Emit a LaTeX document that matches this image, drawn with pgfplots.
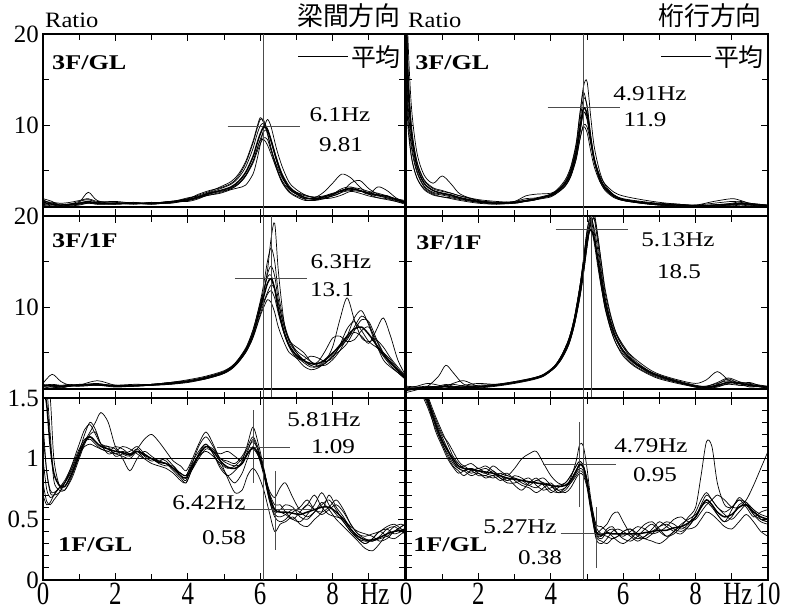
\documentclass[border=0pt]{standalone}
\usepackage{fontspec}
\setmainfont{Liberation Serif}
\newfontfamily\jp{Noto Sans CJK JP}
\usepackage{pgfplots}
\usepackage{pgfplotstable}
\pgfplotsset{compat=1.18}

% ---------- spectral ratio data: x = frequency [Hz], m = average, a..g = records
\pgfplotstableread{
x     m    a    b    c    d    e    f    g
0     1.5  1.9  1.3  1.7  1.2  1.6  1.4  1.8
0.25  1.3  1.6  1.1  1.4  1.0  1.5  1.2  1.3
0.5   1.2  1.1  1.0  1.3  1.1  1.4  1.2  1.0
0.75  1.3  1.2  1.3  1.2  1.2  1.5  1.3  1.1
1.0   1.4  1.5  1.6  1.3  1.3  1.7  1.4  1.2
1.25  1.6  2.6  1.8  1.4  1.5  1.9  1.5  1.4
1.5   1.4  1.7  1.5  1.5  1.4  1.6  1.3  1.3
2     1.4  1.3  1.4  1.6  1.3  1.5  1.4  1.3
2.5   1.4  1.5  1.3  1.4  1.4  1.3  1.5  1.4
3     1.4  1.3  1.5  1.3  1.4  1.5  1.3  1.4
3.5   1.5  1.6  1.4  1.5  1.6  1.4  1.5  1.6
4     1.8  1.9  1.7  2.0  1.7  1.8  1.9  1.6
4.3   2.1  2.4  2.0  2.2  2.0  2.1  2.3  1.9
4.6   2.5  2.8  2.3  2.6  2.5  2.3  2.7  2.4
4.9   2.8  3.1  2.6  3.0  2.8  2.5  3.2  2.7
5.2   3.2  3.6  3.0  3.5  3.1  2.9  3.8  3.0
5.4   3.8  4.4  3.5  4.2  3.6  3.1  4.6  3.5
5.6   4.8  5.8  4.4  5.4  4.5  3.4  6.0  4.4
5.8   6.5  8.0  6.0  7.4  6.0  4.6  8.2  5.8
5.9   7.8  9.4  7.2  8.8  7.2  6.0  9.6  6.9
6.0   9.0  10.6 8.3  9.9  8.4  7.8  10.8 7.9
6.1   9.8  10.5 8.4  10.2 9.3  9.6  10.2 8.6
6.2   9.5  9.2  7.8  9.6  9.4  10.6 9.0  8.4
6.3   8.3  7.5  6.8  8.2  8.4  9.8  7.3  7.2
6.45  6.2  5.4  5.2  6.1  6.4  7.4  5.2  5.6
6.6   4.5  3.8  3.9  4.4  4.7  5.5  3.7  4.2
6.8   3.1  2.7  2.9  3.0  3.3  3.7  2.6  3.1
7.0   2.5  2.2  2.4  2.4  2.6  2.9  2.1  2.6
7.25  2.0  1.9  2.0  1.8  2.2  2.3  1.7  2.3
7.5   1.9  2.0  1.8  1.7  2.1  2.0  1.8  2.0
7.75  2.1  2.6  1.9  1.9  2.2  2.0  2.1  1.9
8.0   2.4  3.6  2.2  2.3  2.5  2.2  2.4  2.0
8.25  2.8  4.6  2.6  2.8  2.7  2.6  3.0  2.3
8.5   3.0  4.2  2.8  3.1  2.9  3.6  3.2  2.7
8.75  2.8  3.2  2.7  3.0  2.8  3.9  2.8  2.5
9.0   2.5  2.4  2.6  2.7  2.4  3.0  2.4  2.2
9.25  2.3  2.0  2.3  2.5  2.2  2.4  3.2  2.0
9.5   2.2  1.8  2.0  2.2  2.0  2.1  2.8  1.9
9.75  1.8  1.6  1.7  1.9  1.8  1.9  2.0  1.6
10    1.5  1.4  1.5  1.6  1.4  1.7  1.5  1.3
}\tTL

\pgfplotstableread{
x     m    a    b    c    d    e    f    g
0     24   30   26   22   18   25   20   16
0.05  15   20   17   13   11   16   12   10
0.15  9.0  12   10   8.0  6.5  9.5  7.5  6.5
0.3   5.5  7.0  6.0  5.0  4.2  6.0  4.8  4.2
0.5   3.6  4.5  3.9  3.3  3.0  4.0  3.2  2.9
0.75  2.8  3.6  3.0  2.6  2.4  3.1  2.5  2.3
1.0   2.5  4.4  2.7  2.4  2.1  2.8  2.3  2.1
1.25  2.3  3.5  2.5  2.2  2.0  2.5  2.1  1.9
1.5   2.0  2.4  2.2  1.9  1.8  2.2  1.9  1.7
2     1.6  1.7  1.7  1.5  1.5  1.8  1.6  1.4
2.5   1.4  1.5  1.5  1.4  1.3  1.6  1.4  1.3
3     1.5  1.6  1.5  1.4  1.6  1.5  1.5  1.4
3.3   1.7  1.9  1.7  1.6  2.2  1.7  1.6  1.6
3.6   1.9  2.0  1.9  1.8  2.4  1.9  1.8  1.8
4     2.3  2.4  2.2  2.3  2.5  2.2  2.4  2.1
4.2   2.8  2.9  2.7  2.8  2.9  2.6  3.0  2.6
4.4   3.6  3.8  3.4  3.7  3.6  3.3  4.0  3.3
4.55  4.8  5.2  4.5  5.0  4.7  4.3  5.4  4.4
4.7   7.0  7.8  6.6  7.4  6.8  6.2  8.0  6.3
4.8   9.5  11.0 9.0  10.2 9.1  8.3  11.2 8.4
4.9   11.8 14.2 11.3 12.9 11.4 10.0 13.6 9.8
5.0   11.2 14.8 10.9 12.2 10.6 9.8  12.0 9.2
5.1   8.5  11.0 8.5  9.0  8.2  8.0  8.6  7.2
5.2   6.2  7.6  6.3  6.4  6.0  6.2  6.0  5.4
5.35  4.2  4.9  4.3  4.2  4.1  4.5  3.9  3.8
5.5   3.1  3.4  3.2  3.0  3.1  3.5  2.8  2.9
5.75  2.2  2.3  2.3  2.1  2.2  2.6  2.0  2.1
6     1.8  1.8  1.9  1.7  1.8  2.2  1.7  1.7
6.5   1.5  1.5  1.6  1.4  1.5  1.8  1.4  1.4
7     1.3  1.3  1.4  1.2  1.3  1.5  1.2  1.2
7.5   1.2  1.2  1.3  1.1  1.3  1.3  1.1  1.1
8     1.1  1.1  1.2  1.0  1.1  1.2  1.0  1.0
8.5   1.2  1.2  1.4  1.1  1.2  1.6  1.1  1.0
9     1.3  1.3  1.6  1.2  1.4  1.9  1.2  1.1
9.25  1.4  1.4  1.5  1.3  1.6  1.7  1.3  1.2
9.5   1.3  1.3  1.3  1.2  1.4  1.4  1.2  1.1
10    1.1  1.1  1.2  1.0  1.2  1.2  1.0  1.0
}\tTR

\pgfplotstableread{
x     m    a    b    c    d    e    f    g
0     1.3  1.0  1.6  1.2  1.4  0.9  1.3  1.5
0.25  1.4  1.3  2.6  1.2  1.5  1.1  1.4  1.3
0.5   1.3  1.2  1.8  1.1  1.4  1.2  1.3  1.2
0.75  1.4  1.3  1.4  1.3  1.5  1.3  1.4  1.3
1     1.4  1.4  1.5  1.3  1.4  1.4  1.3  1.5
1.5   1.5  1.6  1.4  1.4  1.5  1.9  1.4  1.5
2     1.3  1.3  1.4  1.3  1.4  1.4  1.2  1.3
2.5   1.35 1.3  1.4  1.3  1.5  1.4  1.3  1.4
3     1.45 1.4  1.5  1.4  1.5  1.5  1.4  1.5
3.5   1.6  1.5  1.7  1.6  1.7  1.6  1.5  1.7
4     1.8  1.8  1.9  1.8  2.0  1.8  1.7  1.9
4.5   2.2  2.2  2.3  2.1  2.4  2.2  2.1  2.3
5     2.8  2.8  2.9  2.7  3.0  2.8  2.7  2.9
5.3   3.6  3.6  3.8  3.5  3.8  3.6  3.5  3.7
5.6   5.2  5.3  5.4  5.0  5.5  5.2  5.0  5.3
5.8   7.0  7.1  7.4  6.7  7.5  7.0  6.6  7.0
6.0   9.8  10.0 10.6 9.2  10.4 10.2 9.0  9.6
6.1   11.2 11.6 12.6 10.4 11.9 11.8 10.0 10.6
6.2   12.6 13.6 15.0 11.4 13.3 14.0 10.8 11.6
6.3   13.1 14.5 16.5 11.8 13.5 17.5 10.5 12.4
6.4   12.0 13.4 15.0 11.0 12.0 19.2 9.4  12.0
6.5   9.8  10.8 11.6 9.3  9.6  14.0 7.8  10.4
6.65  7.4  8.0  8.4  7.2  7.2  8.6  6.2  8.0
6.8   5.8  6.3  6.5  5.7  5.6  6.2  5.0  6.4
7.0   4.7  5.6  5.0  4.6  4.4  5.0  4.4  5.2
7.2   4.1  5.0  4.2  3.9  4.2  4.1  3.5  4.6
7.4   3.8  4.0  3.6  3.4  4.6  3.6  3.1  4.0
7.6   3.8  3.5  3.4  3.5  4.4  4.0  3.3  3.6
7.8   4.2  3.8  4.1  4.3  4.0  5.2  3.9  3.6
8.0   4.9  4.6  5.6  5.0  4.4  6.6  4.6  4.2
8.2   5.8  5.2  8.6  5.6  5.8  6.8  5.6  5.2
8.4   6.8  6.0  11.0 6.4  7.6  6.2  6.8  6.6
8.6   7.6  7.4  8.6  7.8  8.4  6.4  8.8  7.2
8.8   7.8  8.6  6.6  9.0  7.4  7.4  9.6  6.8
9.0   7.0  8.4  6.2  8.2  6.2  7.8  8.0  6.0
9.2   5.9  6.6  6.4  6.0  5.6  6.4  5.8  7.4
9.4   4.8  5.0  5.6  4.2  5.0  4.8  4.6  8.8
9.6   3.9  4.0  4.4  3.4  4.2  3.8  3.6  6.8
9.8   3.0  3.1  3.4  2.8  3.2  3.0  2.8  4.2
10    2.2  2.3  2.5  2.1  2.4  2.2  2.1  2.6
}\tML

\pgfplotstableread{
x     m    a    b    c    d    e    f    g
0     1.0  0.6  1.3  0.9  1.1  0.8  1.2  1.0
0.3   1.1  0.9  1.2  1.0  1.3  1.0  1.2  1.1
0.6   1.2  1.3  1.1  1.2  1.6  1.2  1.3  1.1
0.9   1.2  2.4  1.2  1.3  1.4  1.1  1.2  1.2
1.1   1.3  3.6  1.4  1.5  1.2  1.3  1.2  1.3
1.3   1.2  2.8  1.5  1.3  1.2  1.6  1.1  1.2
1.6   1.2  1.5  1.3  1.2  1.4  1.9  1.2  1.1
2     1.2  1.3  1.2  1.3  1.6  1.3  1.4  1.1
2.5   1.4  1.4  1.4  1.5  1.5  1.4  1.5  1.3
3     1.7  1.7  1.7  1.8  1.7  1.7  1.8  1.6
3.5   2.1  2.1  2.1  2.2  2.1  2.1  2.2  2.0
3.8   2.5  2.5  2.5  2.6  2.5  2.4  2.6  2.4
4.1   3.4  3.5  3.3  3.5  3.4  3.3  3.5  3.3
4.3   4.5  4.7  4.4  4.7  4.5  4.3  4.7  4.3
4.5   6.2  6.5  6.0  6.5  6.2  5.9  6.5  5.9
4.65  8.4  8.8  8.1  8.8  8.4  8.0  8.8  8.0
4.8   11.6 12.2 11.2 12.2 11.6 11.0 12.2 11.0
4.9   14.4 15.2 13.8 15.0 14.4 13.6 15.0 13.6
5.0   17.4 18.4 16.8 18.0 17.4 16.6 18.2 16.6
5.1   18.5 20.2 19.2 19.0 19.6 19.4 19.8 19.0
5.2   17.5 18.2 19.6 17.0 18.6 20.2 17.6 19.8
5.3   15.3 15.0 17.0 14.4 16.2 17.8 14.8 17.6
5.4   12.8 12.2 13.8 12.0 13.4 14.6 12.2 14.8
5.5   10.5 9.8  11.0 10.0 11.0 11.6 10.0 12.0
5.65  8.2  7.6  8.4  7.8  8.6  9.0  7.6  9.2
5.8   6.6  6.0  6.6  6.4  7.0  7.2  6.0  7.2
6.0   5.2  4.8  5.2  5.0  5.6  5.8  4.6  5.6
6.3   3.9  3.6  4.0  3.8  4.4  4.2  3.5  4.0
6.7   2.9  2.7  3.0  2.8  3.2  3.0  2.6  2.9
7     2.4  2.2  2.5  2.3  2.6  2.4  2.1  2.4
7.5   1.8  1.7  1.9  1.7  2.0  1.8  1.6  1.8
8     1.3  1.3  1.4  1.2  1.6  1.2  1.2  1.3
8.3   1.2  1.2  1.3  1.1  2.0  1.1  1.1  1.3
8.6   1.4  1.3  1.7  1.2  2.9  1.3  1.5  1.6
8.9   1.7  1.5  2.2  1.6  2.0  1.8  2.1  1.9
9.2   1.6  1.4  1.8  1.7  1.4  1.6  1.6  1.7
9.5   1.4  1.3  1.5  1.6  1.5  1.2  1.7  1.4
9.8   1.3  1.2  1.3  1.4  1.2  1.3  1.3  1.3
10    1.2  1.1  1.2  1.3  1.1  1.2  1.2  1.2
}\tMR

\pgfplotstableread{
x     m     a     b     c     d     e     f     g
0     1.60  1.30  0.80  1.70  1.00  1.60  0.70  1.20
0.1   1.45  0.90  0.65  1.60  0.75  1.55  0.62  0.90
0.2   1.10  0.72  0.62  1.20  0.68  1.50  0.64  0.74
0.3   0.88  0.70  0.66  0.82  0.70  1.00  0.70  0.72
0.45  0.78  0.72  0.72  0.74  0.76  0.78  0.76  0.76
0.6   0.77  0.80  0.80  0.74  0.82  0.74  0.80  0.80
0.8   0.88  0.95  0.92  0.84  0.94  0.86  0.90  0.92
1.0   1.03  1.12  1.06  1.00  1.08  1.02  1.04  1.06
1.15  1.14  1.24  1.14  1.12  1.16  1.14  1.10  1.20
1.3   1.18  1.28  1.16  1.20  1.18  1.22  1.12  1.30
1.45  1.14  1.20  1.12  1.22  1.14  1.30  1.10  1.24
1.6   1.10  1.12  1.08  1.12  1.10  1.38  1.08  1.12
1.8   1.08  1.10  1.06  1.04  1.10  1.30  1.06  1.08
2.0   1.06  1.08  1.10  1.06  1.02  1.10  1.04  1.04
2.2   1.05  1.00  1.08  1.10  1.04  1.04  1.06  1.02
2.4   1.03  0.90  1.04  1.08  1.06  1.02  1.04  1.00
2.6   1.06  1.00  1.08  1.04  1.10  1.08  1.06  1.06
2.8   1.03  1.06  1.02  1.00  1.04  1.16  1.00  1.04
3.0   1.00  1.02  0.98  1.00  1.00  1.20  0.96  1.00
3.2   0.97  0.98  1.00  0.96  0.98  1.14  0.94  0.98
3.4   0.96  0.96  0.98  0.94  1.00  1.06  0.92  0.96
3.6   0.92  0.90  0.92  0.94  0.94  0.98  0.88  0.92
3.8   0.86  0.84  0.88  0.86  0.88  0.94  0.82  0.88
3.95  0.84  0.80  0.86  0.82  0.86  0.90  0.80  0.86
4.1   0.92  0.90  0.94  0.94  0.90  0.98  0.90  0.96
4.3   1.03  1.04  1.02  1.10  1.00  1.12  1.02  1.06
4.5   1.10  1.12  1.06  1.18  1.08  1.22  1.10  1.12
4.7   1.06  1.04  1.02  1.10  1.06  1.12  1.08  1.04
4.9   0.98  0.94  0.96  1.00  1.04  0.98  1.00  0.92
5.1   0.93  0.86  0.92  0.96  1.06  0.84  0.98  0.86
5.3   0.92  0.80  0.94  0.94  1.02  0.72  0.96  0.90
5.5   0.96  0.88  1.00  0.96  0.98  0.74  1.02  0.98
5.65  1.04  1.00  1.08  1.04  1.06  0.86  1.10  1.12
5.8   1.09  1.10  1.14  1.08  1.16  0.92  1.18  1.26
5.95  1.04  1.02  1.06  1.02  1.06  0.86  1.08  1.12
6.1   0.90  0.86  0.88  0.90  0.88  0.74  0.90  0.92
6.25  0.70  0.66  0.68  0.72  0.66  0.56  0.74  0.70
6.4   0.58  0.54  0.56  0.62  0.52  0.40  0.68  0.58
6.55  0.56  0.52  0.58  0.62  0.48  0.46  0.76  0.56
6.7   0.56  0.54  0.62  0.56  0.50  0.48  0.80  0.54
6.9   0.55  0.58  0.60  0.50  0.56  0.52  0.68  0.50
7.1   0.54  0.56  0.52  0.48  0.60  0.46  0.58  0.56
7.3   0.56  0.52  0.50  0.54  0.66  0.44  0.62  0.62
7.5   0.58  0.56  0.56  0.62  0.58  0.50  0.70  0.58
7.7   0.60  0.62  0.64  0.72  0.56  0.56  0.60  0.54
7.9   0.60  0.66  0.58  0.62  0.60  0.70  0.54  0.58
8.1   0.56  0.58  0.50  0.54  0.66  0.60  0.52  0.62
8.3   0.50  0.48  0.44  0.48  0.58  0.52  0.50  0.56
8.5   0.42  0.40  0.38  0.40  0.46  0.42  0.44  0.46
8.7   0.36  0.34  0.32  0.34  0.38  0.34  0.40  0.38
8.9   0.33  0.30  0.26  0.32  0.34  0.30  0.38  0.36
9.1   0.33  0.34  0.24  0.32  0.32  0.34  0.36  0.38
9.3   0.35  0.40  0.30  0.34  0.36  0.40  0.32  0.40
9.5   0.38  0.42  0.38  0.36  0.42  0.36  0.34  0.44
9.7   0.40  0.38  0.44  0.40  0.44  0.34  0.40  0.46
9.9   0.41  0.40  0.46  0.44  0.40  0.38  0.44  0.42
10    0.42  0.42  0.44  0.46  0.38  0.40  0.46  0.40
}\tBL

\pgfplotstableread{
x     m     a     b     c     d     e     f     g
0     2.40  2.60  2.20  2.80  2.00  2.50  2.30  2.10
0.1   2.10  2.30  1.90  2.40  1.80  2.20  2.00  1.90
0.2   1.90  2.00  1.80  2.10  1.70  2.00  1.80  1.75
0.3   1.75  1.80  1.70  1.85  1.60  1.80  1.70  1.65
0.45  1.60  1.62  1.58  1.66  1.52  1.64  1.56  1.54
0.6   1.48  1.50  1.46  1.52  1.42  1.50  1.44  1.46
0.8   1.30  1.32  1.28  1.36  1.26  1.34  1.30  1.24
1.0   1.15  1.18  1.12  1.22  1.12  1.20  1.14  1.10
1.15  1.07  1.08  1.04  1.12  1.02  1.14  1.06  1.00
1.3   1.00  0.98  0.96  1.02  0.94  1.06  0.98  0.93
1.45  0.94  0.92  0.92  0.96  0.90  0.98  0.92  0.88
1.6   0.92  0.90  0.94  0.92  0.86  0.94  0.90  0.90
1.8   0.91  0.92  0.90  0.88  0.90  0.96  0.86  0.92
2.0   0.90  0.88  0.92  0.90  0.86  0.92  0.88  0.90
2.2   0.89  0.86  0.88  0.92  0.86  0.94  0.84  0.88
2.4   0.88  0.90  0.86  0.88  0.84  0.90  0.86  0.94
2.6   0.86  0.84  0.88  0.84  0.86  0.86  0.82  0.90
2.8   0.84  0.82  0.86  0.80  0.88  0.82  0.84  0.86
3.0   0.83  0.84  0.92  0.80  0.82  0.86  0.78  0.84
3.2   0.82  0.80  1.00  0.82  0.78  0.84  0.74  0.82
3.4   0.81  0.78  1.04  0.84  0.76  0.80  0.80  0.78
3.6   0.80  0.82  1.06  0.78  0.72  0.82  0.84  0.76
3.8   0.79  0.80  0.96  0.74  0.76  0.84  0.78  0.80
4.0   0.78  0.74  0.86  0.76  0.80  0.78  0.72  0.78
4.2   0.77  0.72  0.80  0.78  0.74  0.72  0.76  0.74
4.4   0.78  0.76  0.78  0.80  0.72  0.74  0.80  0.76
4.55  0.82  0.84  0.80  0.86  0.76  0.80  0.86  0.82
4.7   0.90  0.98  0.86  0.94  0.84  0.88  0.94  0.90
4.8   0.95  1.12  0.90  0.98  0.88  0.92  0.98  0.96
4.9   0.93  1.10  0.88  0.94  0.86  0.90  0.94  0.92
5.0   0.82  0.92  0.78  0.82  0.76  0.80  0.82  0.80
5.1   0.63  0.68  0.60  0.62  0.58  0.64  0.62  0.60
5.25  0.40  0.44  0.38  0.40  0.36  0.46  0.38  0.34
5.4   0.37  0.38  0.36  0.42  0.32  0.44  0.34  0.30
5.55  0.39  0.36  0.42  0.46  0.30  0.40  0.40  0.34
5.7   0.38  0.34  0.44  0.54  0.34  0.36  0.42  0.40
5.85  0.38  0.36  0.38  0.56  0.36  0.32  0.38  0.42
6.0   0.38  0.40  0.34  0.48  0.40  0.30  0.36  0.40
6.2   0.38  0.42  0.32  0.38  0.42  0.34  0.40  0.36
6.4   0.38  0.36  0.36  0.34  0.38  0.40  0.44  0.32
6.6   0.39  0.34  0.42  0.36  0.34  0.46  0.42  0.36
6.8   0.40  0.38  0.46  0.40  0.32  0.48  0.38  0.42
7.0   0.41  0.44  0.40  0.44  0.30  0.42  0.40  0.48
7.2   0.41  0.48  0.36  0.46  0.34  0.36  0.44  0.44
7.4   0.43  0.46  0.40  0.42  0.40  0.38  0.50  0.40
7.6   0.44  0.42  0.46  0.40  0.44  0.44  0.52  0.38
7.8   0.47  0.46  0.50  0.44  0.42  0.52  0.48  0.44
8.0   0.52  0.56  0.54  0.52  0.44  0.60  0.50  0.52
8.15  0.60  0.66  0.60  0.62  0.50  0.86  0.56  0.60
8.3   0.66  0.72  0.64  0.70  0.56  1.14  0.62  0.66
8.45  0.62  0.66  0.60  0.66  0.54  1.10  0.66  0.62
8.6   0.56  0.60  0.54  0.60  0.50  0.80  0.70  0.54
8.8   0.52  0.54  0.48  0.56  0.44  0.62  0.66  0.48
9.0   0.54  0.50  0.52  0.60  0.42  0.60  0.60  0.58
9.2   0.60  0.56  0.62  0.66  0.48  0.66  0.60  0.68
9.4   0.62  0.62  0.64  0.60  0.54  0.64  0.66  0.62
9.6   0.56  0.58  0.54  0.52  0.48  0.58  0.78  0.54
9.8   0.52  0.50  0.48  0.56  0.40  0.54  0.92  0.50
10    0.50  0.48  0.46  0.58  0.36  0.52  1.06  0.48
}\tBR

\pgfplotsset{
  panel/.style={
    scale only axis, width=362bp, height=182bp, anchor=south west,
    xmin=0, xmax=10,
    axis line style={line width=1.4pt},
    every tick/.style={black, line width=0.9pt},
    major tick length=7bp, minor tick length=6bp,
    tick align=inside,
    xtick={0,2,...,10}, minor xtick={1,3,...,9},
    xticklabels={}, yticklabels={},
    tick label style={font=\fontsize{25}{25}\selectfont},
    yticklabel style={inner sep=0pt, xshift=-4bp},
    xticklabel style={inner sep=0pt, yshift=-3bp, yscale=1.3},
  },
  hiscale/.style={ymin=0, ymax=20, ytick={0,10,20}, minor ytick={5,15}},
  loscale/.style={ymin=0, ymax=1.5, ytick={0,0.5,1,1.5},
    minor ytick={0.1,0.2,0.3,0.4,0.6,0.7,0.8,0.9,1.1,1.2,1.3,1.4}},
  avg legend/.style={legend style={draw=none, fill=none, at={(1,1)},
      anchor=north east, xshift=-2bp, yshift=-9bp,
      font=\jp\fontsize{25}{25}\selectfont, inner sep=0pt},
    legend image code/.code={\draw[line width=1.4pt] (0bp,0bp) -- (50bp,0bp);}},
  thinc/.style={black, line width=0.7pt, smooth, forget plot},
  meanc/.style={black, line width=1.5pt, smooth},
  refl/.style={black, line width=1.3pt, forget plot},
  pick/.style={black!70, line width=0.9pt, forget plot},
}

\begin{document}
\begin{tikzpicture}[x=1bp, y=1bp]
\useasboundingbox (0,0) rectangle (785,612);

% ---- 梁間方向, 3F/GL
\begin{axis}[panel, hiscale, avg legend, at={(43bp,396bp)}, yticklabels={,10,20}]
  \pgfplotsinvokeforeach{a,b,c,d,e,f,g}{\addplot[thinc] table[x=x,y=#1]{\tTL};}
  \addplot[refl] coordinates {(0,1) (10,1)};
  \addplot[pick] coordinates {(6.1,0) (6.1,20)};
  \addplot[pick] coordinates {(5.1,9.81) (7.1,9.81)};
  \addplot[meanc] table[x=x,y=m]{\tTL};
  \addlegendentry{平均}
\end{axis}

% ---- 桁行方向, 3F/GL
\begin{axis}[panel, hiscale, avg legend, at={(406bp,396bp)}]
  \pgfplotsinvokeforeach{a,b,c,d,e,f,g}{\addplot[thinc] table[x=x,y=#1]{\tTR};}
  \addplot[refl] coordinates {(0,1) (10,1)};
  \addplot[pick] coordinates {(4.91,0) (4.91,20)};
  \addplot[pick] coordinates {(3.91,11.9) (5.91,11.9)};
  \addplot[meanc] table[x=x,y=m]{\tTR};
  \addlegendentry{平均}
\end{axis}

% ---- 梁間方向, 3F/1F
\begin{axis}[panel, hiscale, at={(43bp,214bp)}, yticklabels={,10,20}]
  \pgfplotsinvokeforeach{a,b,c,d,e,f,g}{\addplot[thinc] table[x=x,y=#1]{\tML};}
  \addplot[refl] coordinates {(0,1) (10,1)};
  \addplot[pick] coordinates {(6.1,0) (6.1,20)};
  \addplot[pick] coordinates {(6.3,0) (6.3,20)};
  \addplot[pick] coordinates {(5.3,13.1) (7.3,13.1)};
  \addplot[meanc] table[x=x,y=m]{\tML};
\end{axis}

% ---- 桁行方向, 3F/1F
\begin{axis}[panel, hiscale, at={(406bp,214bp)}]
  \pgfplotsinvokeforeach{a,b,c,d,e,f,g}{\addplot[thinc] table[x=x,y=#1]{\tMR};}
  \addplot[refl] coordinates {(0,1) (10,1)};
  \addplot[pick] coordinates {(4.91,0) (4.91,20)};
  \addplot[pick] coordinates {(5.13,0) (5.13,20)};
  \addplot[pick] coordinates {(4.13,18.5) (6.13,18.5)};
  \addplot[meanc] table[x=x,y=m]{\tMR};
\end{axis}

% ---- 梁間方向, 1F/GL
\begin{axis}[panel, loscale, at={(43bp,32bp)},
    yticklabels={0,0.5,1,1.5},
    xtick={0,2,4,6,8}, xticklabels={0,2,4,6,8},
    extra x ticks={9}, extra x tick labels={Hz},
    extra x tick style={xticklabel style={xshift=6bp}}]
  \pgfplotsinvokeforeach{a,b,c,d,e,f,g}{\addplot[thinc] table[x=x,y=#1]{\tBL};}
  \addplot[refl] coordinates {(0,1) (10,1)};
  \addplot[pick] coordinates {(6.1,0) (6.1,1.5)};
  \addplot[pick] coordinates {(5.81,0.8) (5.81,1.4)};
  \addplot[pick] coordinates {(4.81,1.09) (6.81,1.09)};
  \addplot[pick] coordinates {(6.42,0.25) (6.42,0.9)};
  \addplot[pick] coordinates {(5.42,0.58) (7.42,0.58)};
  \addplot[meanc] table[x=x,y=m]{\tBL};
\end{axis}

% ---- 桁行方向, 1F/GL
\begin{axis}[panel, loscale, at={(406bp,32bp)},
    xtick={0,2,4,6,8,10}, xticklabels={0,2,4,6,8,10},
    extra x ticks={9}, extra x tick labels={Hz},
    extra x tick style={xticklabel style={xshift=6bp}}]
  \pgfplotsinvokeforeach{a,b,c,d,e,f,g}{\addplot[thinc] table[x=x,y=#1]{\tBR};}
  \addplot[refl] coordinates {(0,1) (10,1)};
  \addplot[pick] coordinates {(4.91,0) (4.91,1.5)};
  \addplot[pick] coordinates {(4.79,0.6) (4.79,1.3)};
  \addplot[pick] coordinates {(3.79,0.95) (5.79,0.95)};
  \addplot[pick] coordinates {(5.27,0.1) (5.27,0.6)};
  \addplot[pick] coordinates {(4.27,0.38) (6.27,0.38)};
  \addplot[meanc] table[x=x,y=m]{\tBR};
\end{axis}

% ---- headings
\node[anchor=base west, inner sep=0pt, font=\fontsize{22}{22}\selectfont, xscale=1.12] at (45,584) {Ratio};
\node[anchor=base west, inner sep=0pt, font=\fontsize{22}{22}\selectfont, xscale=1.12] at (408,584) {Ratio};
\node[anchor=base east, font=\jp\fontsize{26}{26}\selectfont, inner sep=0pt] at (401,586) {梁間方向};
\node[anchor=base east, font=\jp\fontsize{26}{26}\selectfont, inner sep=0pt] at (762,586) {桁行方向};

% ---- panel names
\begin{scope}[every node/.style={anchor=base west, inner sep=0pt,
    font=\bfseries\fontsize{21}{21}\selectfont, xscale=1.25}]
  \node at (52,542) {3F/GL};
  \node at (415,542) {3F/GL};
  \node at (52,364) {3F/1F};
  \node at (416,362) {3F/1F};
  \node at (58,60) {1F/GL};
  \node at (413,60) {1F/GL};
\end{scope}

% ---- peak annotations
\begin{scope}[every node/.style={inner sep=0pt,
    font=\fontsize{21}{21}\selectfont, xscale=1.2}]
  \node at (340,497) {6.1Hz};   \node at (341,467) {9.81};
  \node at (650,518) {4.91Hz};  \node at (645,492) {11.9};
  \node at (341,350) {6.3Hz};   \node at (332,322) {13.1};
  \node at (678,372) {5.13Hz};  \node at (679,340) {18.5};
  \node at (324,192) {5.81Hz};  \node at (333,165) {1.09};
  \node at (209,109) {6.42Hz};  \node at (224,74)  {0.58};
  \node at (651,166) {4.79Hz};  \node at (655,137) {0.95};
  \node at (520,85)  {5.27Hz};  \node at (540,54)  {0.38};
\end{scope}
\end{tikzpicture}
\end{document}
